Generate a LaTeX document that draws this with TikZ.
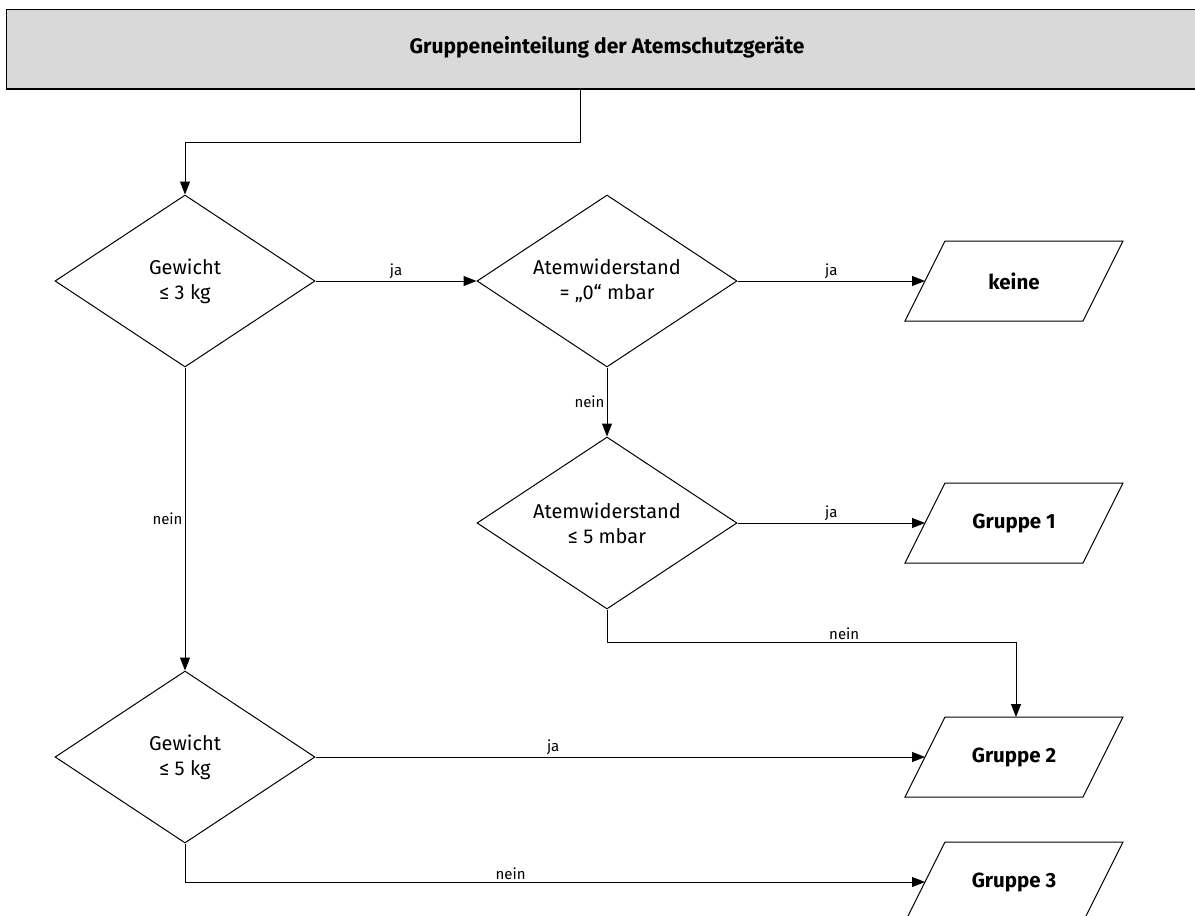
\documentclass[tikz,border=0pt]{standalone}
\usepackage{fontspec}
\setmainfont{Fira Sans}
\usetikzlibrary{shapes.geometric,arrows.meta,calc}
\definecolor{boxgray}{HTML}{D9D9D9}
\begin{document}
\begin{tikzpicture}[x=1pt,y=-1pt,
  line width=1pt,
  arr/.style={-{Triangle[length=13pt,width=10pt]}},
  dec/.style={draw, shape=diamond, aspect=1.51, inner sep=0pt,
    minimum width=260pt, minimum height=172pt, align=center,
    font=\fontsize{20}{25}\selectfont},
  outbox/.style={draw=none, rectangle, minimum width=177pt, minimum height=79pt,
    inner sep=0pt, font=\fontsize{20.5}{24}\selectfont\bfseries},
  lab/.style={font=\fontsize{15}{17}\selectfont, inner sep=2pt}
]
\useasboundingbox (0,0) rectangle (1195,916);
% title
\node[draw, fill=boxgray, rectangle, minimum width=1210pt, minimum height=79pt,
  inner sep=0pt, anchor=north west, line width=1pt] (title) at (6,9) {};
\draw[line width=1.6pt] (title.south west) -- (title.south east);
\node[font=\fontsize{21}{24}\selectfont\bfseries] (titletext) at (607,47) {Gruppeneinteilung der Atemschutzgeräte};
\coordinate (tstart) at (580,88);
% decisions
\node[dec] (d1) at (185,281) {Gewicht\\ ≤ 3 kg};
\node[dec] (d2) at (607,281) {Atemwiderstand\\ = „0“ mbar};
\node[dec] (d3) at (607,523) {Atemwiderstand\\ ≤ 5 mbar};
\node[dec] (d4) at (185,757) {Gewicht\\ ≤ 5 kg};
% outputs
\foreach \n/\y/\t in {keine/281/keine, g1/523/Gruppe 1, g2/757/Gruppe 2, g3/882/Gruppe 3}{
  \node[outbox] (\n) at (1014,\y) {\t};
  \draw ($(\n.north west)+(20,0)$) -- ($(\n.north east)+(20,0)$) --
        ($(\n.south east)+(-20,0)$) -- ($(\n.south west)+(-20,0)$) -- cycle;
}
% connectors
\draw[arr] (tstart) -- (580,142) -| (d1.north);
\draw[arr] (d1.east) -- node[lab, above] {ja} (d2.west);
\draw[arr] (d2.east) -- node[lab, above] {ja} (keine.west);
\draw[arr] (d2.south) -- node[lab, left] {nein} (d3.north);
\draw[arr] (d3.east) -- node[lab, above] {ja} (g1.west);
\draw[arr] (d3.south) -- (607,642) -- node[lab, above, pos=0.58] {nein} (1016,642) -- (g2.north -| 1016,0);
\draw[arr] (d1.south) -- node[lab, left] {nein} (d4.north);
\draw[arr] (d4.east) -- node[lab, above, pos=0.39] {ja} (g2.west);
\draw[arr] (d4.south) |- node[lab, above, pos=0.72] {nein} (g3.west);
\end{tikzpicture}
\end{document}
